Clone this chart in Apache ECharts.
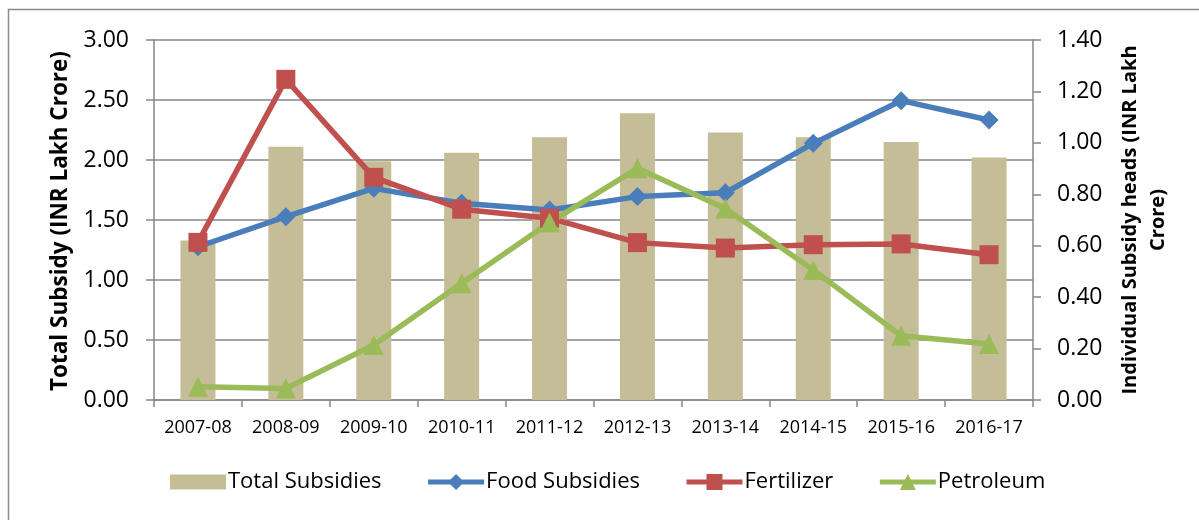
<!DOCTYPE html>
<html>
<head>
<meta charset="utf-8">
<script src="https://cdn.jsdelivr.net/npm/echarts@6/dist/echarts.min.js"></script>
<style>
html,body{margin:0;padding:0;background:#fff;}
#chart{width:1199px;height:520px;}
</style>
</head>
<body>
<div id="chart"></div>
<script>
const categories = ['2007-08','2008-09','2009-10','2010-11','2011-12','2012-13','2013-14','2014-15','2015-16','2016-17'];
const totalSubsidies = [1.33, 2.11, 1.99, 2.06, 2.19, 2.39, 2.23, 2.19, 2.15, 2.02];
const foodSubsidies = [0.596, 0.713, 0.823, 0.765, 0.739, 0.791, 0.806, 0.998, 1.164, 1.089];
const fertilizer = [0.613, 1.247, 0.866, 0.742, 0.707, 0.612, 0.591, 0.604, 0.607, 0.565];
const petroleum = [0.052, 0.045, 0.214, 0.454, 0.690, 0.901, 0.745, 0.506, 0.250, 0.218];
const leftTicks = ['0.00','0.50','1.00','1.50','2.00','2.50','3.00'];
const rightTicks = ['0.00','0.20','0.40','0.60','0.80','1.00','1.20','1.40'];

const FONT = 'Open Sans';
const gridColor = '#868686';

const chart = echarts.init(document.getElementById('chart'), null, {renderer:'canvas'});
chart.setOption({
  animation: false,
  backgroundColor: '#fff',
  textStyle: {fontFamily: FONT, color: '#000'},
  grid: {left: 154, right: 166, top: 40, bottom: 120, containLabel: false},
  legend: {
    left: 170, top: 471, padding: 0,
    itemWidth: 56, itemHeight: 20, itemGap: 44,
    lineStyle: {width: 5},
    textStyle: {fontFamily: FONT, fontSize: 22, color: '#000', padding: [0,0,0,-3]},
    data: [
      {name: 'Total Subsidies', icon: 'path://M0,0L0,0M0,2.5L56,2.5L56,17.5L0,17.5ZM56,20L56,20'},
      {name: 'Food Subsidies'},
      {name: 'Fertilizer'},
      {name: 'Petroleum'}
    ]
  },
  xAxis: {
    type: 'category',
    data: categories,
    boundaryGap: true,
    axisLine: {lineStyle: {color: gridColor, width: 1.5}},
    axisTick: {show: true, length: 7, alignWithLabel: false, lineStyle: {color: gridColor, width: 1.5}},
    axisLabel: {fontFamily: FONT, fontSize: 18, color: '#000', margin: 19, interval: 0}
  },
  yAxis: [
    {
      type: 'value', min: 0, max: 3, interval: 0.5, position: 'left',
      axisLine: {show: true, lineStyle: {color: gridColor, width: 1.5}},
      axisTick: {show: true, length: 8, lineStyle: {color: gridColor, width: 1.5}},
      splitLine: {show: true, lineStyle: {color: gridColor, width: 1.5}},
      axisLabel: {fontFamily: FONT, fontSize: 23, color: '#000', margin: 25,
        formatter: (v) => leftTicks[Math.round(v / 0.5)]}
    },
    {
      type: 'value', min: 0, max: 1.4, interval: 0.2, position: 'right',
      axisLine: {show: true, lineStyle: {color: gridColor, width: 1.5}},
      axisTick: {show: true, length: 8, lineStyle: {color: gridColor, width: 1.5}},
      splitLine: {show: false},
      axisLabel: {fontFamily: FONT, fontSize: 23, color: '#000', margin: 24,
        formatter: (v) => rightTicks[Math.round(v / 0.2)]}
    }
  ],
  series: [
    {
      name: 'Total Subsidies', type: 'bar', yAxisIndex: 0,
      data: totalSubsidies, barWidth: 35,
      itemStyle: {color: '#C4BD97'}
    },
    {
      name: 'Food Subsidies', type: 'line', yAxisIndex: 1,
      data: foodSubsidies, symbol: 'diamond', symbolSize: 19,
      lineStyle: {color: '#4A7EBB', width: 5.5},
      itemStyle: {color: '#4A7EBB'}
    },
    {
      name: 'Fertilizer', type: 'line', yAxisIndex: 1,
      data: fertilizer, symbol: 'rect', symbolSize: 19,
      lineStyle: {color: '#C0504D', width: 5.5},
      itemStyle: {color: '#C0504D'}
    },
    {
      name: 'Petroleum', type: 'line', yAxisIndex: 1,
      data: petroleum, symbol: 'triangle', symbolSize: 20,
      lineStyle: {color: '#9BBB59', width: 5.5},
      itemStyle: {color: '#9BBB59'}
    }
  ],
  graphic: [
    {
      type: 'rect', silent: true, z: -1,
      shape: {x: 8.5, y: 9.5, width: 1200, height: 520},
      style: {fill: 'none', stroke: '#8c8c8c', lineWidth: 1.5}
    },
    {
      type: 'text', x: 61, y: 221, rotation: Math.PI / 2,
      style: {text: 'Total Subsidy (INR Lakh Crore)', fontFamily: FONT, fontWeight: 'bold',
        fontSize: 22.5, fill: '#000', align: 'center', verticalAlign: 'middle'}
    },
    {
      type: 'text', x: 1144, y: 220, rotation: Math.PI / 2,
      style: {text: 'Individual Subsidy heads (INR Lakh\nCrore)', fontFamily: FONT, fontWeight: 'bold',
        fontSize: 20, lineHeight: 28, fill: '#000', align: 'center', verticalAlign: 'middle'}
    }
  ]
});
</script>
</body>
</html>
